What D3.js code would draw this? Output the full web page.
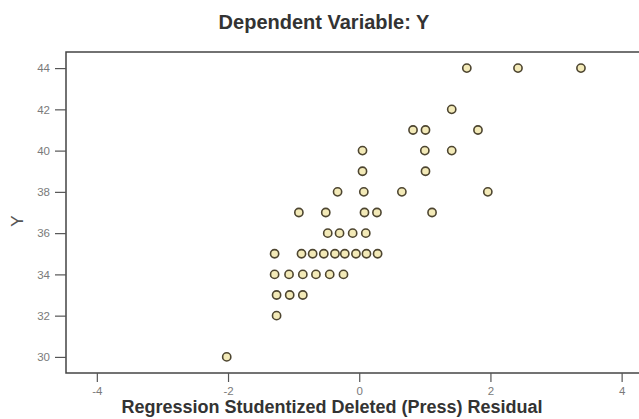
<!DOCTYPE html>
<html lang="en">
  <head>
    <meta charset="utf-8">
    <title>Scatterplot - Dependent Variable: Y</title>
    <script src="https://cdnjs.cloudflare.com/ajax/libs/d3/7.8.5/d3.min.js"></script>
    <style>
      body {
        margin: 0;
        background: #fff;
        font-family: "Liberation Sans", Arial, sans-serif;
      }
      .tick text {
        fill: #7a7a7a;
      }
    </style>
  </head>
  <body>
    <div id="chart"></div>

    <script type="text/javascript">

    // residual (x) and Y value of every case
    const residuals = [
      1.64, 2.42, 3.38,
      1.41,
      0.82, 1.01, 1.81,
      0.05, 1.00, 1.41,
      0.05, 1.01,
      -0.33, 0.07, 0.65, 1.96,
      -0.92, -0.51, 0.08, 0.27, 1.11,
      -0.48, -0.30, -0.10, 0.10,
      -1.29, -0.88, -0.71, -0.54, -0.37, -0.22, -0.05, 0.11, 0.28,
      -1.29, -1.07, -0.86, -0.66, -0.45, -0.24,
      -1.26, -1.06, -0.86,
      -1.26,
      -2.02
    ];
    const yValues = [
      44, 44, 44,
      42,
      41, 41, 41,
      40, 40, 40,
      39, 39,
      38, 38, 38, 38,
      37, 37, 37, 37, 37,
      36, 36, 36, 36,
      35, 35, 35, 35, 35, 35, 35, 35, 35,
      34, 34, 34, 34, 34, 34,
      33, 33, 33,
      32,
      30
    ];

    const xTicks = [-4, -2, 0, 2, 4];
    const yTicks = [30, 32, 34, 36, 38, 40, 42, 44];

    const w = 639;
    const h = 419;
    const padLeft = 66, padTop = 52, padBottom = 373;

    const xScale = d3.scaleLinear()
                     .domain([-4.47, 4.47])
                     .range([padLeft, padLeft + 8.94 * 65.6]);

    const yScale = d3.scaleLinear()
                     .domain([29.22, 44.78])
                     .range([padBottom, padTop]);

    const svg = d3.select("#chart")
                  .append("svg")
                  .attr("width", w)
                  .attr("height", h);

    // title
    svg.append("text")
       .attr("x", 324)
       .attr("y", 29)
       .attr("text-anchor", "middle")
       .style("font-size", "20px")
       .style("font-weight", "bold")
       .style("fill", "#333")
       .text("Dependent Variable: Y");

    // plot frame
    svg.append("rect")
       .attr("x", padLeft)
       .attr("y", padTop)
       .attr("width", xScale.range()[1] - padLeft)
       .attr("height", padBottom - padTop)
       .attr("fill", "none")
       .attr("stroke", "#444")
       .attr("stroke-width", 1.5);

    // plain hyphen for negatives, like the original
    const xAxis = d3.axisBottom(xScale)
                    .tickValues(xTicks)
                    .tickFormat((d) => String(d))
                    .tickSize(9)
                    .tickPadding(5);
    const yAxis = d3.axisLeft(yScale)
                    .tickValues(yTicks)
                    .tickSize(11)
                    .tickPadding(5);

    const gx = svg.append("g")
       .attr("id", "x-axis")
       .attr("transform", "translate(0," + padBottom + ")")
       .call(xAxis);

    const gy = svg.append("g")
       .attr("id", "y-axis")
       .attr("transform", "translate(" + padLeft + ",0)")
       .call(yAxis);

    [gx, gy].forEach(function (g) {
      g.select(".domain").remove();
      g.selectAll(".tick line").attr("stroke", "#555").attr("stroke-width", 1.2);
      g.selectAll(".tick text")
       .style("font-size", "11.5px")
       .style("font-family", "'Liberation Sans', Arial, sans-serif");
    });

    // axis titles
    svg.append("text")
       .attr("x", 332)
       .attr("y", 413)
       .attr("text-anchor", "middle")
       .style("font-size", "18px")
       .style("font-weight", "bold")
       .style("fill", "#333")
       .text("Regression Studentized Deleted (Press) Residual");

    svg.append("text")
       .attr("transform", "rotate(-90)")
       .attr("x", -221)
       .attr("y", 23)
       .attr("text-anchor", "middle")
       .style("font-size", "17px")
       .style("fill", "#555")
       .text("Y");

    // points
    svg.append("g")
       .selectAll("circle")
       .data(residuals)
       .enter()
       .append("circle")
       .attr("cx", (d) => xScale(d))
       .attr("cy", (d, i) => yScale(yValues[i]))
       .attr("r", 4.1)
       .attr("fill", "#f3eab8")
       .attr("stroke", "#4d4530")
       .attr("stroke-width", 1.6);

    </script>
  </body>
</html>
